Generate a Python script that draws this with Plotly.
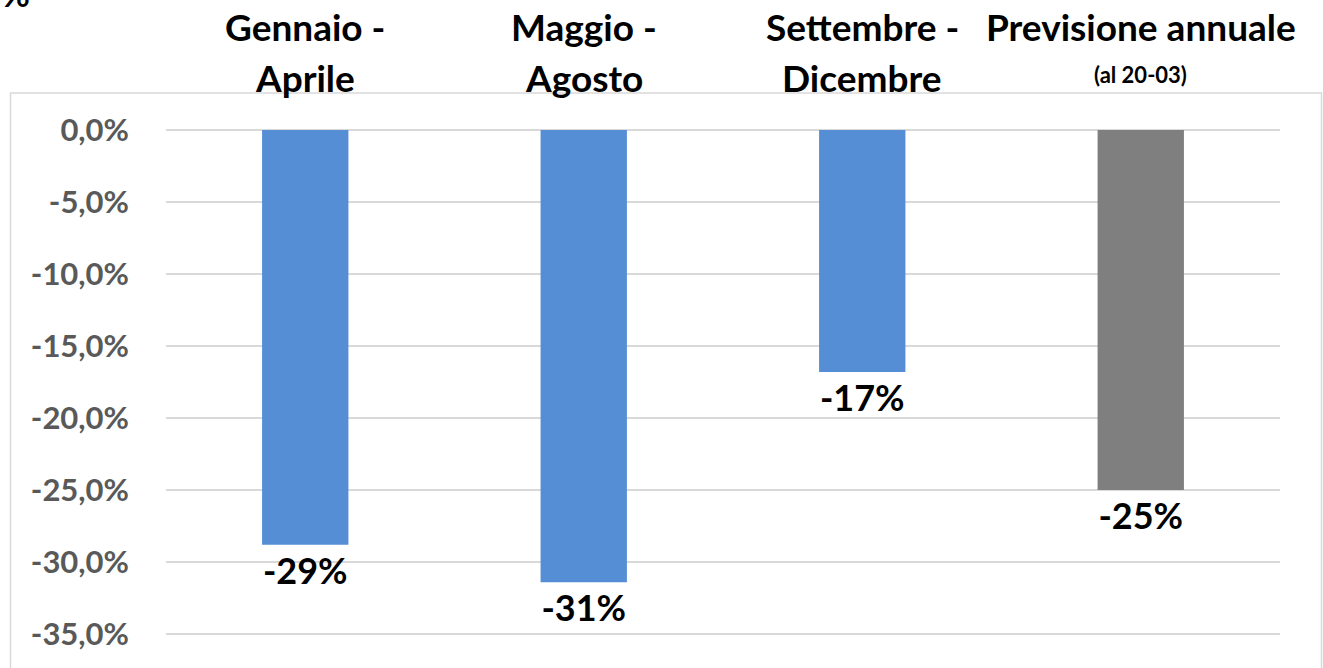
import plotly.graph_objects as go

categories = ["Gennaio -|Aprile", "Maggio -|Agosto", "Settembre -|Dicembre", "Previsione annuale|(al 20-03)"]
values = [-28.8, -31.4, -16.8, -25.0]
bar_colors = ["#558ED5", "#558ED5", "#558ED5", "#7F7F7F"]
tick_vals = [0, -5, -10, -15, -20, -25, -30, -35]
tick_text = ["0,0%", "-5,0%", "-10,0%", "-15,0%", "-20,0%", "-25,0%", "-30,0%", "-35,0%"]

FONT = "Lato"
x_keys = [c.split("|")[0] for c in categories]
labels = [f"{round(v)}%" for v in values]

fig = go.Figure()
fig.add_trace(go.Bar(
    x=x_keys, y=values, marker=dict(color=bar_colors, line=dict(width=0)),
    width=0.31, text=labels, textposition="outside", cliponaxis=False,
    textfont=dict(family=FONT, size=36, color="#000000", weight="bold"),
    hoverinfo="skip",
))

H = 668
top_px, bot_px = 93, 668
plot_h = bot_px - top_px

def paper_y(px):
    return (bot_px - px) / plot_h

annotations = []
for i, c in enumerate(categories):
    l1, l2 = c.split("|")
    annotations.append(dict(x=x_keys[i], xref="x", y=paper_y(26), yref="paper",
                            text=f"<b>{l1}</b>", showarrow=False, xanchor="center", yanchor="middle",
                            font=dict(family=FONT, size=37, color="#000000")))
    small = l2.startswith("(")
    annotations.append(dict(x=x_keys[i], xref="x", y=paper_y(74 if small else 77), yref="paper",
                            text=f"<b>{l2}</b>", showarrow=False, xanchor="center", yanchor="middle",
                            font=dict(family=FONT, size=22 if small else 37, color="#000000")))
annotations.append(dict(x=-0.149, xref="paper", y=paper_y(-6), yref="paper", text="<b>%</b>",
                        showarrow=False, xanchor="left", yanchor="middle",
                        font=dict(family=FONT, size=34, color="#000000")))

fig.update_layout(
    width=1323, height=H,
    margin=dict(l=166, r=43, t=top_px, b=0, pad=0),
    paper_bgcolor="white", plot_bgcolor="white",
    showlegend=False,
    annotations=annotations,
    shapes=[dict(type="rect", xref="paper", yref="paper",
                 x0=(10.5 - 166) / 1114, x1=(1321.5 - 166) / 1114, y0=-0.05, y1=1,
                 line=dict(color="#D9D9D9", width=1.5), layer="below")],
    xaxis=dict(range=[-0.5, 3.5], showticklabels=False, showgrid=False, zeroline=False,
               showline=False, ticks=""),
    yaxis=dict(range=[-35 - 34 / 14.4, 37 / 14.4], tickvals=tick_vals, ticktext=tick_text,
               showgrid=True, gridcolor="#D9D9D9", gridwidth=1.5, zeroline=False, showline=False,
               ticks="", ticklabelstandoff=36,
               tickfont=dict(family=FONT, size=31, color="#595959", weight="bold")),
)

fig.write_html("out.html", config={"displayModeBar": False, "staticPlot": True})
with open("out.html", "r", encoding="utf-8") as f:
    html = f.read()
html = html.replace("<head>", "<head><style>html,body{margin:0;padding:0;overflow:hidden}</style>", 1)
with open("out.html", "w", encoding="utf-8") as f:
    f.write(html)
